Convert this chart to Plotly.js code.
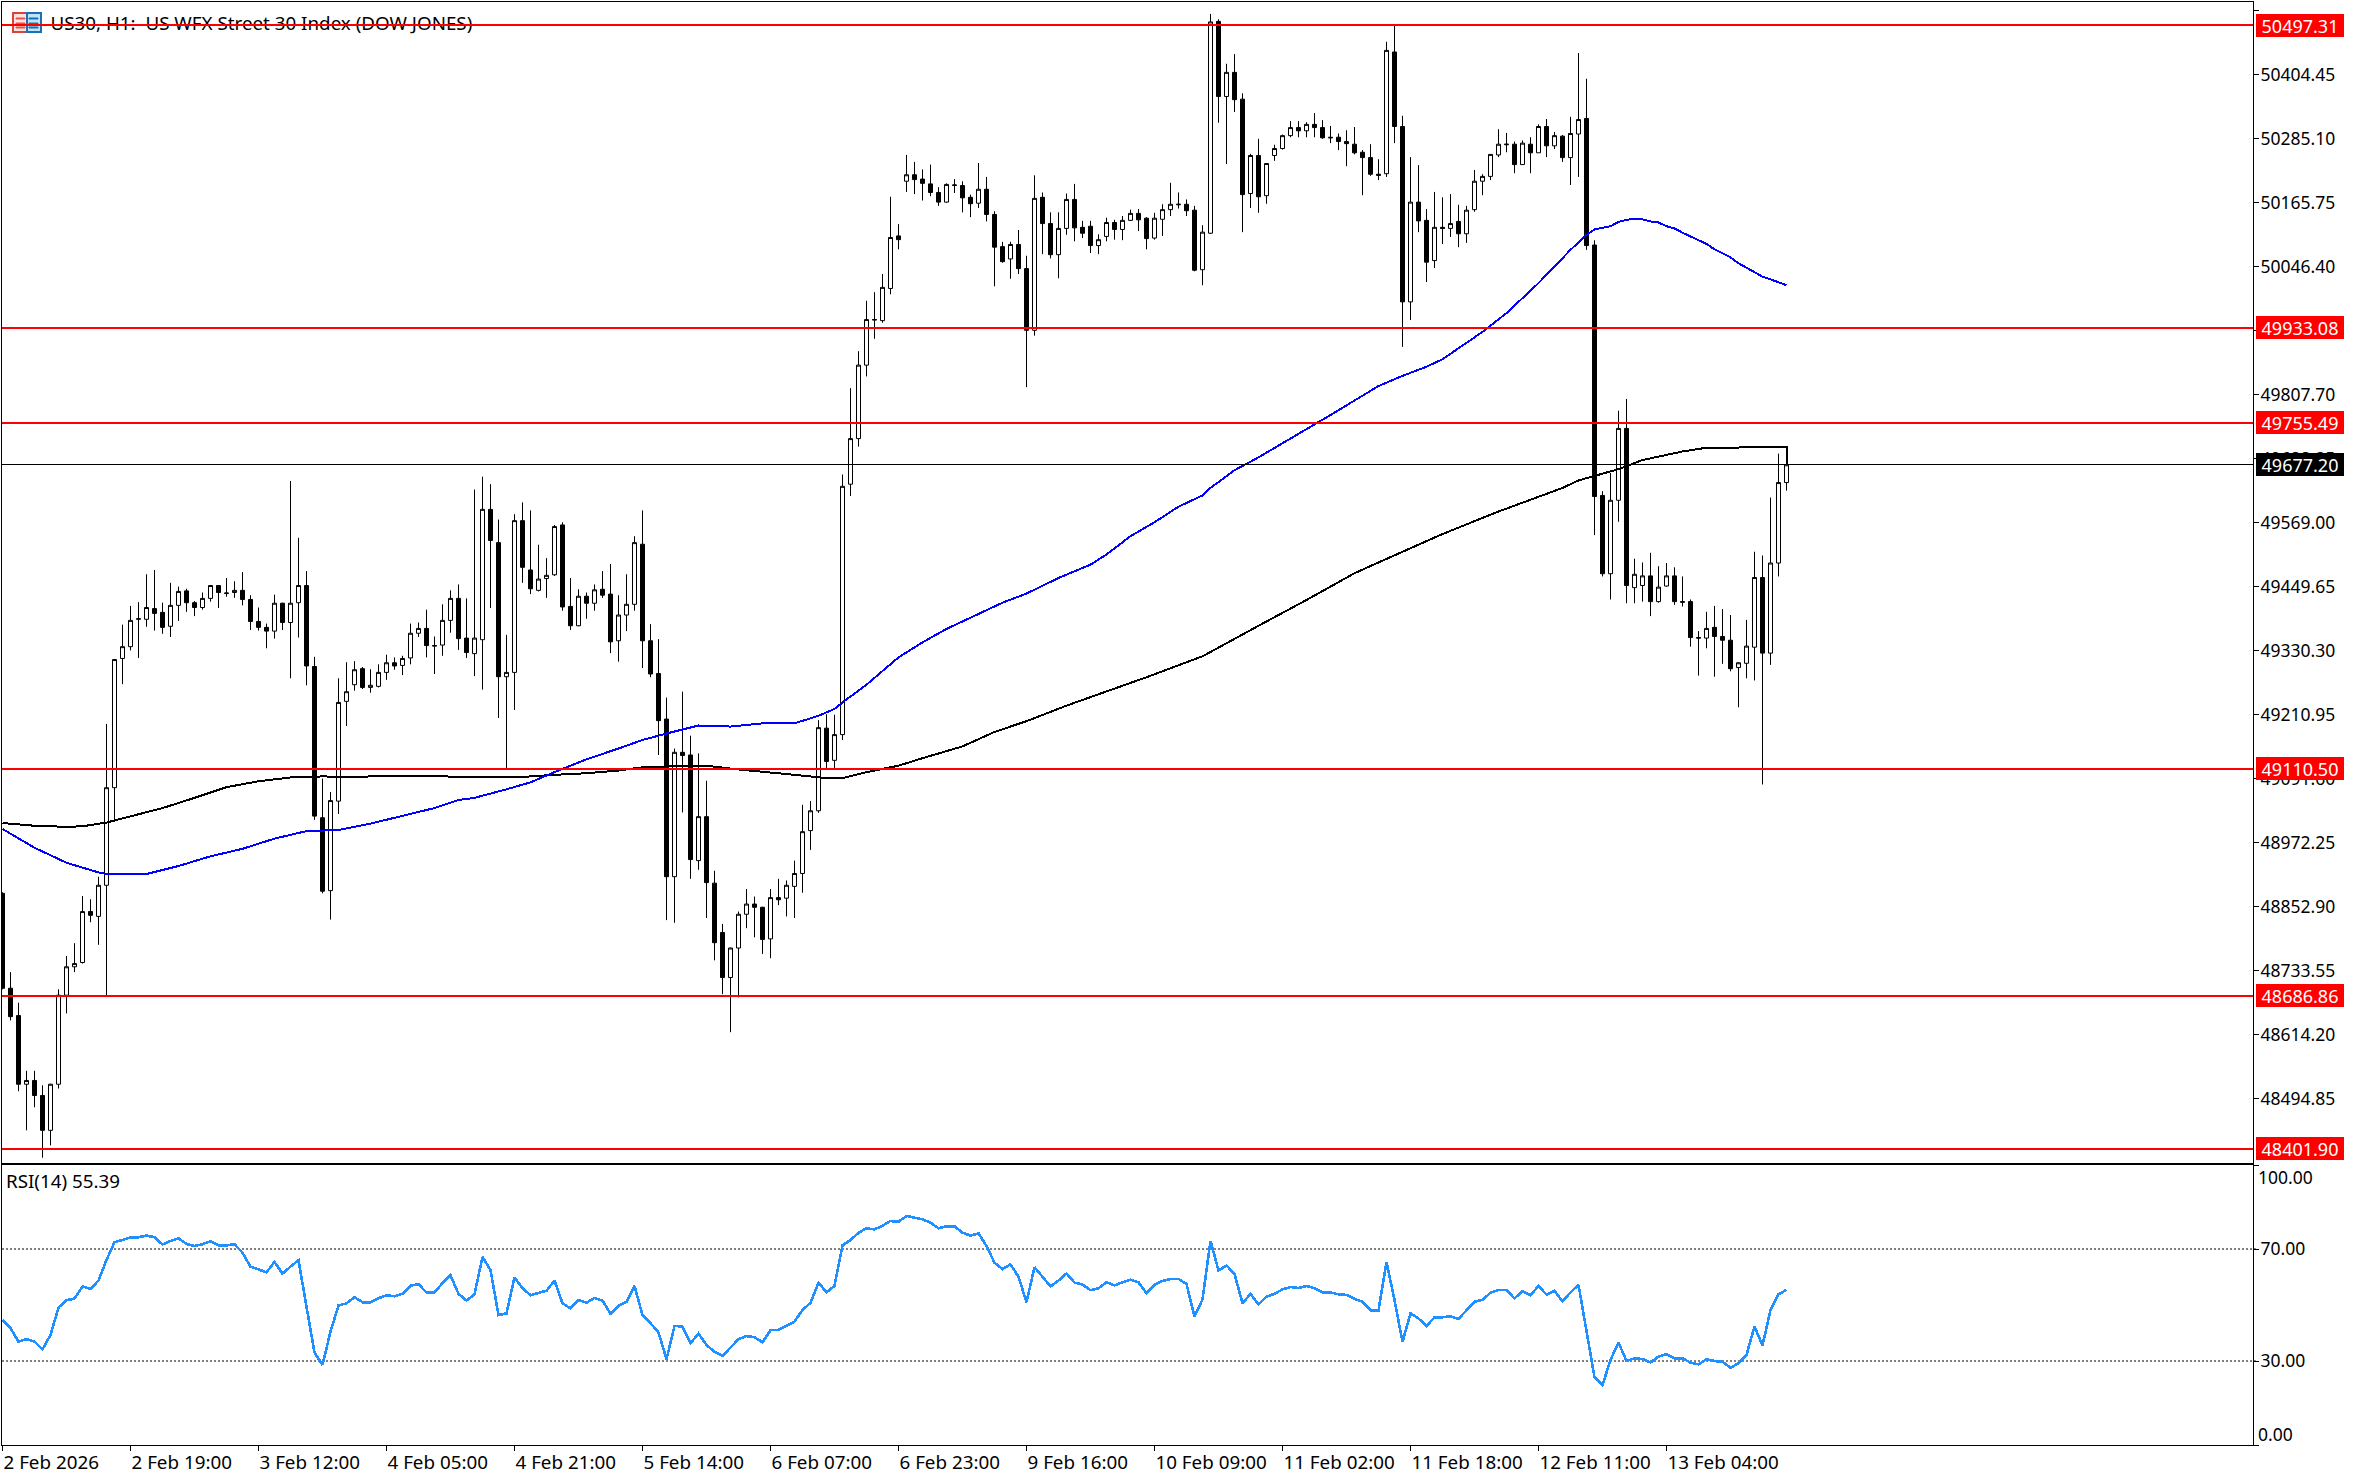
<!DOCTYPE html>
<html><head><meta charset="utf-8">
<script src="https://cdn.plot.ly/plotly-3.0.1.min.js"></script>
<style>
html,body{margin:0;padding:0;background:#fff;overflow:hidden}
#chart{width:2359px;height:1478px}
.scatterlayer .js-line{shape-rendering:crispEdges}
</style></head><body><div id="chart"></div>
<script>
const chartTitle = "US30, H1:  US WFX Street 30 Index (DOW JONES)";
const rsiTitle = "RSI(14) 55.39";
const opens = [48878,48701,48650,48522,48529,48501,48436,48522,48688,48741,
48749,48844,48835,48893,49075,49316,49338,49389,49389,49409,
49402,49376,49415,49442,49420,49411,49428,49452,49437,49439,
49443,49426,49385,49374,49367,49419,49383,49420,49452,49301,
49019,48883,49050,49236,49267,49297,49262,49264,49290,49308,
49303,49317,49363,49372,49339,49341,49387,49428,49354,49325,
49351,49594,49532,49282,49290,49573,49481,49443,49465,49472,
49565,49413,49377,49432,49419,49445,49436,49349,49397,49417,
49529,49349,49288,49203,48909,49141,49136,48939,49021,48897,
48805,48721,48776,48839,48858,48852,48793,48870,48869,48891,
48915,48995,49032,49186,49126,49174,49641,49726,49863,49947,
49946,50006,50104,50206,50218,50210,50201,50185,50167,50198,
50198,50176,50165,50191,50144,50084,50061,50088,50043,49928,
50176,50127,50069,50118,50172,50120,50122,50086,50103,50129,
50116,50133,50146,50137,50100,50135,50153,50162,50163,50152,
50041,50109,50504,50364,50409,50359,50183,50254,50179,50254,
50267,50291,50306,50300,50312,50306,50288,50288,50280,50275,
50260,50250,50219,50220,50447,50308,49981,50167,50133,50058,
50120,50118,50131,50108,50153,50206,50215,50255,50274,50275,
50237,50275,50259,50308,50272,50290,50250,50294,50323,50087,
49620,49474,49611,49745,49448,49452,49470,49422,49451,49470,
49422,49422,49355,49354,49374,49357,49350,49299,49307,49337,
49467,49326,49494,49644];
const highs = [48880,48731,48674,48547,48547,48520,48523,48699,48761,48785,
48873,48867,48909,49194,49314,49379,49414,49421,49473,49481,
49420,49457,49450,49446,49423,49439,49453,49453,49466,49460,
49477,49434,49411,49381,49435,49420,49647,49541,49479,49319,
49092,49067,49279,49309,49311,49300,49296,49305,49323,49318,
49321,49381,49383,49407,49357,49417,49443,49454,49428,49631,
49655,49641,49575,49360,49585,49607,49592,49528,49503,49565,
49570,49466,49445,49439,49454,49479,49492,49434,49473,49544,
49592,49380,49352,49243,49148,49254,49172,49139,49088,48920,
48821,48777,48844,48886,48872,48853,48886,48905,48902,48939,
49043,49050,49201,49212,49211,49659,49820,49889,49983,49999,
50033,50177,50126,50255,50242,50228,50237,50195,50202,50210,
50206,50181,50240,50214,50150,50093,50093,50115,50067,50217,
50185,50148,50148,50183,50201,50132,50132,50107,50138,50134,
50141,50153,50154,50139,50147,50163,50203,50185,50172,50160,
50124,50518,50508,50425,50443,50370,50257,50285,50239,50274,
50293,50318,50318,50316,50333,50320,50309,50295,50301,50307,
50264,50275,50247,50466,50496,50328,50251,50236,50154,50186,
50176,50182,50162,50160,50227,50219,50256,50303,50296,50280,
50282,50288,50312,50322,50298,50292,50326,50445,50397,50096,
49628,49662,49778,49800,49502,49495,49513,49488,49494,49486,
49469,49426,49367,49403,49414,49408,49397,49309,49388,49515,
49508,49616,49698,49677.2];
const lows = [48699,48641,48509,48436,48479,48385,48408,48514,48654,48731,
48747,48824,48782,48688,49011,49268,49331,49317,49375,49368,
49362,49356,49386,49403,49395,49407,49422,49410,49431,49429,
49415,49369,49368,49335,49353,49369,49279,49355,49266,49015,
48878,48829,49026,49190,49256,49259,49252,49262,49276,49295,
49285,49305,49356,49318,49287,49321,49364,49332,49317,49283,
49258,49410,49205,49110,49220,49457,49436,49441,49429,49470,
49405,49369,49376,49390,49405,49429,49326,49310,49367,49405,
49298,49281,49136,48828,48823,49029,48905,48922,48832,48753,
48690,48619,48684,48813,48796,48765,48757,48856,48835,48832,
48879,48959,49028,49110,49110,49164,49619,49711,49842,49912,
49942,49995,50079,50186,50182,50170,50178,50160,50166,50184,
50148,50139,50156,50131,50010,50054,50024,50033,49822,49918,
50070,50062,50025,50106,50094,50100,50072,50070,50094,50097,
50096,50132,50113,50079,50097,50104,50141,50155,50141,50038,
50012,50108,50315,50238,50335,50111,50156,50147,50164,50244,
50265,50288,50288,50288,50288,50285,50277,50264,50234,50256,
50180,50216,50208,50214,50277,49897,49947,50111,50018,50044,
50089,50102,50083,50091,50149,50180,50208,50251,50260,50221,
50237,50221,50259,50251,50266,50242,50199,50214,50078,49546,
49469,49426,49571,49419,49419,49422,49395,49420,49450,49416,
49413,49338,49284,49335,49282,49306,49292,49225,49279,49275,
49081,49304,49469,49629];
const closes = [48701,48648,48522,48529,48501,48436,48522,48688,48741,48747,
48844,48837,48893,49075,49314,49338,49387,49390,49411,49400,
49374,49415,49441,49420,49411,49428,49452,49439,49438,49443,
49426,49385,49374,49367,49419,49383,49419,49452,49302,49022,
48882,49051,49234,49254,49295,49262,49266,49290,49308,49302,
49316,49363,49372,49340,49340,49387,49428,49353,49327,49354,
49594,49536,49282,49290,49573,49486,49446,49464,49471,49562,
49412,49377,49432,49419,49444,49434,49347,49397,49417,49532,
49349,49287,49200,48909,49141,49135,48941,49021,48898,48786,
48721,48776,48839,48858,48852,48792,48870,48866,48893,48915,
48993,49032,49187,49124,49174,49637,49726,49863,49948,49948,
50008,50101,50097,50218,50209,50202,50185,50167,50200,50199,
50175,50164,50191,50144,50083,50056,50088,50043,49928,50174,
50127,50069,50118,50172,50119,50109,50086,50097,50129,50116,
50133,50146,50134,50099,50137,50153,50163,50163,50151,50040,
50111,50503,50364,50409,50358,50181,50254,50177,50239,50267,
50291,50306,50300,50312,50306,50287,50287,50280,50276,50259,
50250,50219,50217,50450,50308,49981,50167,50132,50055,50120,
50118,50127,50108,50152,50206,50215,50256,50275,50275,50237,
50277,50259,50308,50272,50291,50250,50295,50321,50086,49618,
49474,49611,49745,49452,49473,49470,49422,49449,49470,49422,
49421,49355,49354,49372,49357,49350,49297,49308,49339,49467,
49326,49494,49644,49677.2];
const blueMaBars = [0,4,8,12,13,18,22,26,30,34,38,42,46,50,54,57,59,63,66,69,73,77,80,83,87,91,95,99,102,104,105,108,112,115,118,122,125,128,132,136,138,141,144,147,150,151,154,157,160,163,166,169,172,175,178,180,182,185,188,190,192,194,196,198,199,200,201,202,203,204,205,206,207,208,209,210,211,212,213,214,215,216,217,218,219,220,221,222,223];
const blueMa = [48998,48963,48935,48917,48914,48914,48929,48947,48961,48980,48994,48996,49008,49023,49037,49052,49056,49072,49085,49104,49128,49148,49164,49176,49191,49189,49195,49195,49209,49222,49234,49267,49318,49346,49371,49399,49420,49437,49466,49491,49510,49544,49570,49599,49620,49634,49667,49691,49717,49744,49770,49797,49824,49843,49860,49874,49894,49925,49960,49988,50016,50047,50078,50106,50116,50119,50122,50130,50134,50136,50135,50131,50129,50122,50118,50110,50103,50096,50089,50079,50071,50064,50053,50045,50037,50028,50023,50017,50012];
const blackMaBars = [0,4,8,10,13,16,20,24,28,32,36,40,44,48,54,57,65,69,73,77,80,84,88,92,96,99,103,105,108,112,115,120,124,128,133,138,143,150,154,158,163,169,175,180,187,191,195,197,199,202,205,210,213,223,223];
const blackMa = [49009,49004,49002,49003,49010,49022,49037,49056,49076,49087,49094,49096,49095,49097,49097,49095,49095,49099,49102,49107,49113,49115,49116,49109,49104,49099,49093,49093,49104,49116,49130,49152,49179,49199,49228,49254,49281,49320,49353,49385,49425,49475,49515,49548,49590,49612,49634,49648,49656,49669,49686,49702,49709,49710,49677.2];
const rsiValues = [44.7,41.7,36.9,37.8,36.9,34.2,39.3,49.1,51.7,52.3,
56.6,55.8,58.7,66.1,72.4,73.2,74.1,74.2,74.8,74.2,
71.6,72.9,73.8,71.8,71.1,71.7,72.8,71.3,71.3,71.7,
68.7,63.7,62.8,61.7,65.4,61.2,63.7,66.0,49.4,33.0,
28.6,40.5,49.8,50.6,52.8,51.0,51.0,52.4,53.5,53.1,
54.0,56.9,57.4,54.5,54.5,57.8,60.6,54.0,51.6,53.8,
67.2,62.5,46.4,47.0,59.9,56.0,53.5,54.2,55.1,58.7,
50.6,48.8,51.8,50.8,52.5,51.6,46.9,49.7,51.2,56.8,
46.4,43.5,40.2,30.6,42.5,42.3,36.3,39.8,35.7,33.3,
31.8,34.8,37.8,38.9,38.5,36.7,41.0,41.1,42.5,44.1,
48.2,50.8,58.0,54.5,56.8,71.3,73.2,75.8,77.4,77.0,
78.3,80.0,79.7,81.8,81.2,80.6,79.4,77.4,78.1,78.1,
75.8,74.8,75.6,71.1,65.1,62.8,64.5,60.1,51.0,63.5,
60.1,56.6,58.7,61.3,58.0,57.3,55.3,56.0,58.1,57.0,
58.1,59.0,58.1,54.2,57.2,58.6,59.3,59.3,57.5,45.8,
52.0,72.9,62.3,64.1,61.1,50.6,54.0,50.2,53.0,54.0,
55.6,56.4,56.1,56.8,56.0,54.5,54.5,53.8,53.6,52.2,
51.2,48.1,48.0,65.3,51.8,36.8,47.0,45.2,42.5,45.6,
45.6,46.0,45.0,48.2,51.2,51.8,54.4,55.4,55.4,52.3,
55.0,53.5,56.8,53.7,55.1,51.3,54.5,57.2,39.9,24.2,
21.4,30.4,36.6,30.0,31.0,30.7,29.5,31.6,32.4,31.0,
31.0,29.4,28.8,30.6,30.0,29.7,27.6,29.2,32.2,42.3,
35.6,48.2,53.8,55.4];
const redLevels = [50497.31,49933.08,49755.49,49110.50,48686.86,48401.90];
const lastPrice = 49677.20;
const priceTicks = [50523.80,50404.45,50285.10,50165.75,50046.40,49927.05,49807.70,49688.35,49569.00,49449.65,49330.30,49210.95,49091.60,48972.25,48852.90,48733.55,48614.20,48494.85];
const timeTickBars = [0,16,32,48,64,80,96,112,128,144,160,176,192,208];
const timeTickLabels = ["2 Feb 2026","2 Feb 19:00","3 Feb 12:00","4 Feb 05:00","4 Feb 21:00","5 Feb 14:00","6 Feb 07:00","6 Feb 23:00","9 Feb 16:00","10 Feb 09:00","11 Feb 02:00","11 Feb 18:00","12 Feb 11:00","13 Feb 04:00"];
const rsiBands = [70,30];

const W=2359,H=1478,L=2,R=2253,T=2,B=1445;
const FONT={family:"'Noto Sans',sans-serif",size:17.5,color:"#000"};
const BIGFONT={family:"'Noto Sans',sans-serif",size:18.8,color:"#000"};
const xRange=[-0.0625,(R-L)/8-0.0625];
const bars=opens.map((_,i)=>i);
const px=x=>(x-L)/(R-L), py=y=>(B-y)/(B-T);

const traces=[
 {type:"candlestick",x:bars,open:opens,high:highs,low:lows,close:closes,xaxis:"x",yaxis:"y",whiskerwidth:0,hoverinfo:"skip",
  increasing:{line:{color:"#000",width:1},fillcolor:"#fff"},decreasing:{line:{color:"#000",width:1},fillcolor:"#000"}},
 {type:"scatter",mode:"text",x:[6.0],y:[redLevels[0]],text:[chartTitle],textposition:"middle right",cliponaxis:false,textfont:BIGFONT,hoverinfo:"skip"},
 {type:"scatter",mode:"lines",x:blackMaBars,y:blackMa,line:{color:"#000",width:2},hoverinfo:"skip"},
 {type:"scatter",mode:"lines",x:blueMaBars,y:blueMa,line:{color:"#0000ff",width:2},hoverinfo:"skip"},
 {type:"scatter",mode:"lines",x:xRange,y:[lastPrice,lastPrice],line:{color:"#000",width:1},hoverinfo:"skip"},
 {type:"scatter",mode:"lines",x:bars,y:rsiValues,xaxis:"x2",yaxis:"y2",line:{color:"#1e90ff",width:2.6},hoverinfo:"skip"}
];
redLevels.forEach(v=>traces.push({type:"scatter",mode:"lines",x:xRange,y:[v,v],line:{color:"#ff0000",width:2},hoverinfo:"skip"}));

const tag=(v,bg)=>({xref:"paper",yref:"y",x:1,y:v,xanchor:"left",yanchor:"middle",xshift:3,text:v.toFixed(2),showarrow:false,
  bgcolor:bg,width:88,height:23,borderpad:0,borderwidth:0,align:"center",font:{family:FONT.family,size:18,color:"#fff"}});
const annotations=[...redLevels.map(v=>tag(v,"#ff0000")),tag(lastPrice,"#000"),
 {xref:"paper",yref:"y2",x:0,y:100,xanchor:"left",yanchor:"middle",xshift:2,yshift:-16,text:rsiTitle,showarrow:false,font:BIGFONT},
 {xref:"paper",yref:"y2",x:1,y:100,xanchor:"left",yanchor:"middle",xshift:3,yshift:-12,text:"100.00",showarrow:false,font:FONT},
 {xref:"paper",yref:"y2",x:1,y:0,xanchor:"left",yanchor:"middle",xshift:3,yshift:11,text:"0.00",showarrow:false,font:FONT}];

const box=(x0,y0,x1,y1,line,fill,w)=>({type:"rect",xref:"paper",yref:"paper",layer:"below",x0:px(x0),x1:px(x1),y0:py(y1),y1:py(y0),line:{color:line,width:w},fillcolor:fill});
const shapes=[
 box(13,13,27,32,"#d8433b","#fde3dc",2),box(27,13,41,32,"#1a6fb5","#bfe4f7",2),
 box(16,18,25,19,"#e0574f","#e0574f",1),box(16,23,25,24,"#e0574f","#e0574f",1),box(16,27,25,28,"#e0574f","#e0574f",1),
 box(29,18,38,19,"#1a6fb5","#1a6fb5",1),box(29,23,38,24,"#1a6fb5","#1a6fb5",1),box(29,27,38,28,"#1a6fb5","#1a6fb5",1),
 ...rsiBands.map(v=>({type:"line",xref:"paper",yref:"y2",x0:0,x1:1.002,y0:v,y1:v,layer:"below",line:{color:"#000",width:1,dash:"2px,2px"}}))
];

const layout={width:W,height:H,autosize:false,showlegend:false,paper_bgcolor:"#fff",plot_bgcolor:"rgba(0,0,0,0)",
 margin:{l:L,r:W-R,t:T,b:H-B,pad:0},font:FONT,boxgap:0.5,boxgroupgap:0,dragmode:false,hovermode:false,
 xaxis:{type:"linear",domain:[0,1],range:xRange,anchor:"y",showgrid:false,zeroline:false,showticklabels:false,ticks:"",showline:true,mirror:true,linecolor:"#000",linewidth:1,rangeslider:{visible:false}},
 xaxis2:{type:"linear",domain:[0,1],range:xRange,anchor:"y2",showgrid:false,zeroline:false,showline:true,mirror:true,linecolor:"#000",linewidth:1,
   tickmode:"array",tickvals:timeTickBars,ticktext:timeTickLabels,ticks:"outside",ticklen:5,tickcolor:"#000",tickwidth:1,ticklabelposition:"outside right",tickangle:0,tickfont:BIGFONT},
 yaxis:{domain:[(B-1163)/(B-T),1],range:[48375.1,50540.2],side:"right",anchor:"x",showgrid:false,zeroline:false,showline:true,mirror:true,linecolor:"#000",linewidth:1,
   tickmode:"array",tickvals:priceTicks,ticktext:priceTicks.map(v=>v.toFixed(2)),ticks:"outside",ticklen:5,tickcolor:"#000",tickwidth:1,ticklabelstandoff:-2,tickfont:FONT},
 yaxis2:{domain:[0,280/(B-T)],range:[0,100],side:"right",anchor:"x2",showgrid:false,zeroline:false,showline:true,mirror:true,linecolor:"#000",linewidth:1,
   tickmode:"array",tickvals:[100,70,30,0],ticktext:["","70.00","30.00",""],ticks:"outside",ticklen:5,tickcolor:"#000",tickwidth:1,ticklabelstandoff:-2,tickfont:FONT},
 annotations,shapes};
Plotly.newPlot("chart",traces,layout,{displayModeBar:false,staticPlot:true});
</script></body></html>
